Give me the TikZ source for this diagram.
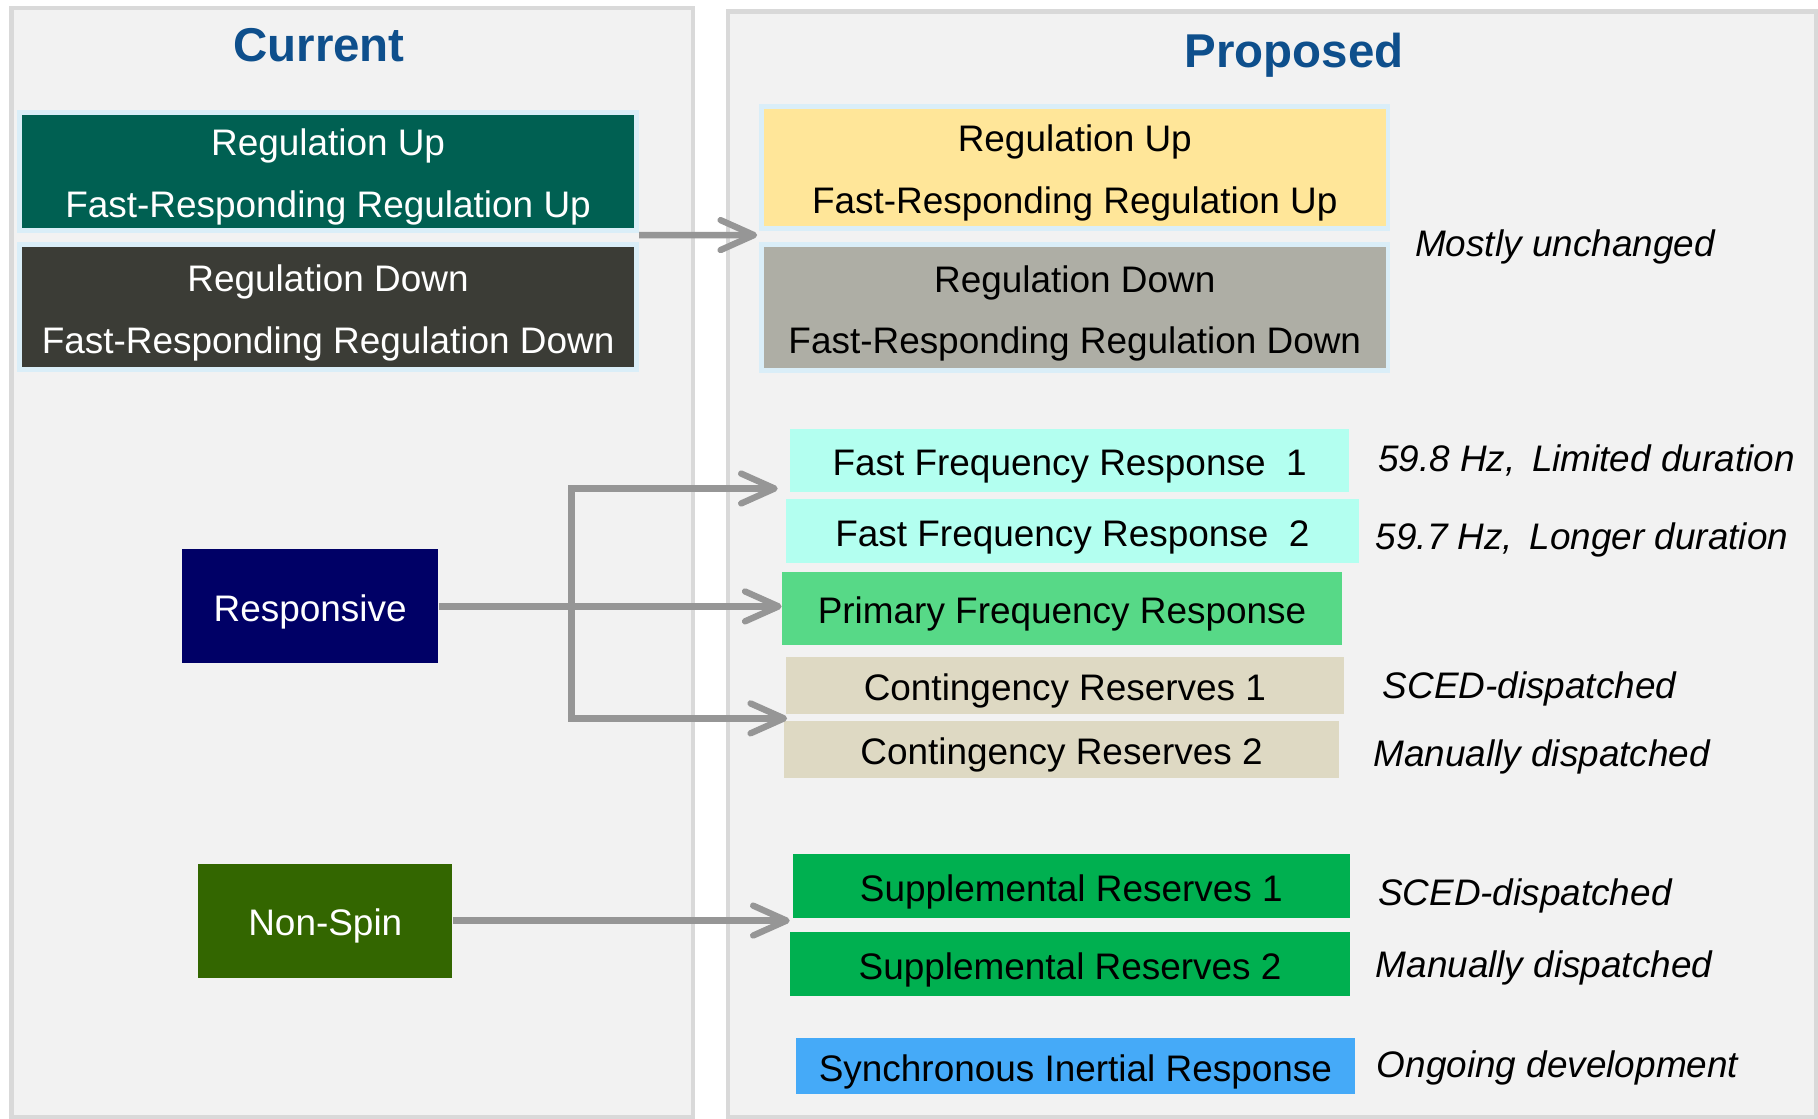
\documentclass[tikz,border=0pt]{standalone}
\usepackage{fontspec}
\setmainfont{Liberation Sans}
\usepackage{tikz}
\usetikzlibrary{arrows.meta,calc}
\definecolor{panelgray}{HTML}{F2F2F2}
\definecolor{panelline}{HTML}{D9D9D9}
\definecolor{titleblue}{HTML}{0E4F8C}
\definecolor{edgeblue}{HTML}{DAEEF8}
\definecolor{arrowgray}{HTML}{969696}
\definecolor{regupdark}{HTML}{006052}
\definecolor{regdowndark}{HTML}{3B3C36}
\definecolor{regupnew}{HTML}{FFE699}
\definecolor{regdownnew}{HTML}{AEAEA5}
\definecolor{ffrcol}{HTML}{B3FFF0}
\definecolor{pfrcol}{HTML}{57D987}
\definecolor{crcol}{HTML}{DED9C3}
\definecolor{srcol}{HTML}{00B050}
\definecolor{sircol}{HTML}{45AAF8}
\definecolor{respcol}{HTML}{000066}
\definecolor{nonspincol}{HTML}{336600}
\newcommand{\toprule}{\rule{0pt}{10.8pt}}

\begin{document}
\begin{tikzpicture}[x=0.01cm,y=-0.01cm,
  panel/.style={fill=panelgray,draw=panelline,line width=1.3pt},
  title/.style={font=\fontsize{13.5}{16}\selectfont\bfseries,text=titleblue},
  svc/.style={font=\fontsize{10.5}{17.5}\selectfont,align=center,inner sep=0pt},
  onebox/.style={svc,execute at begin node={\toprule}},
  regbox/.style={svc,draw=edgeblue,line width=1.4pt},
  note/.style={font=\fontsize{10.5}{12}\selectfont\itshape,anchor=west,inner sep=0pt},
  flow/.style={draw=arrowgray,line width=1.8pt,-{Straight Barb[round,length=9.5pt,width=8.5pt]}}]
\fill[white] (0,0) rectangle (1818,1119);
\useasboundingbox (0,0) rectangle (1818,1119);
\draw[panel] (11.6,8) rectangle (693,1117);
\draw[panel] (728,11.6) rectangle (1816,1117);

\node[title] (current) at (319,45) {Current};
\node[title] (proposed) at (1294,55.5) {Proposed};

\node[regbox,fill=regupdark,text=white,minimum width=6.17cm,minimum height=1.18cm] (regupL) at (328.1,171.6)
  {\toprule Regulation Up\\Fast-Responding Regulation Up};
\node[regbox,fill=regdowndark,text=white,minimum width=6.17cm,minimum height=1.25cm] (regdownL) at (328.1,307.2)
  {\toprule Regulation Down\\Fast-Responding Regulation Down};
\node[onebox,fill=respcol,text=white,minimum width=2.56cm,minimum height=1.14cm] (resp) at (310.2,606.4) {Responsive};
\node[onebox,fill=nonspincol,text=white,minimum width=2.54cm,minimum height=1.14cm] (nonspin) at (325.3,920.6) {Non-Spin};

\node[regbox,fill=regupnew,minimum width=6.26cm,minimum height=1.22cm] (regupR) at (1074.8,167.6)
  {\toprule Regulation Up\\Fast-Responding Regulation Up};
\node[regbox,fill=regdownnew,minimum width=6.26cm,minimum height=1.26cm] (regdownR) at (1074.8,307.8)
  {\toprule Regulation Down\\Fast-Responding Regulation Down};
\node[onebox,fill=ffrcol,minimum width=5.58cm,minimum height=0.63cm] (ffr1) at (1069.6,460.3) {Fast Frequency Response~~1};
\node[onebox,fill=ffrcol,minimum width=5.73cm,minimum height=0.63cm] (ffr2) at (1072.4,531) {Fast Frequency Response~~2};
\node[onebox,fill=pfrcol,minimum width=5.59cm,minimum height=0.73cm] (pfr) at (1062,608.1) {Primary Frequency Response};
\node[onebox,fill=crcol,minimum width=5.58cm,minimum height=0.57cm] (cr1) at (1064.9,685.8) {Contingency Reserves 1};
\node[onebox,fill=crcol,minimum width=5.55cm,minimum height=0.57cm] (cr2) at (1061.5,749.6) {Contingency Reserves 2};
\node[onebox,fill=srcol,minimum width=5.57cm,minimum height=0.64cm] (sr1) at (1071.3,886.4) {Supplemental Reserves 1};
\node[onebox,fill=srcol,minimum width=5.59cm,minimum height=0.64cm] (sr2) at (1070.1,964.1) {Supplemental Reserves 2};
\node[onebox,fill=sircol,minimum width=5.58cm,minimum height=0.55cm] (sir) at (1075.4,1066) {Synchronous Inertial Response};

\node[note] (unchanged) at (1414.5,247) {Mostly unchanged};
\node[note] (ffr1note) at (1377.4,460.3) {59.8 Hz,\ \,Limited duration};
\node[note] (ffr2note) at (1375,540.3) {59.7 Hz,\ \,Longer duration};
\node[note] (cr1note) at (1382,688.7) {SCED-dispatched};
\node[note] (cr2note) at (1372.7,757.1) {Manually dispatched};
\node[note] (sr1note) at (1377.4,896.2) {SCED-dispatched};
\node[note] (sr2note) at (1375,968.1) {Manually dispatched};
\node[note] (sirnote) at (1376.2,1067.8) {Ongoing development};

\coordinate (split) at (571.6,606.4);
\draw[flow] ($(regupL.south east)+(0,2)$) -- ($(regupR.south west)+(-2,4)$);
\draw[flow] (resp.east) -- (resp.east -| pfr.west);
\draw[flow] (split) |- ($(ffr1.south west)+(-12,-4)$);
\draw[flow] (split) |- ($(cr2.north west)+(4,-2)$);
\draw[flow] (nonspin.east) -- (nonspin.east -| sr2.west);
\end{tikzpicture}
\end{document}
